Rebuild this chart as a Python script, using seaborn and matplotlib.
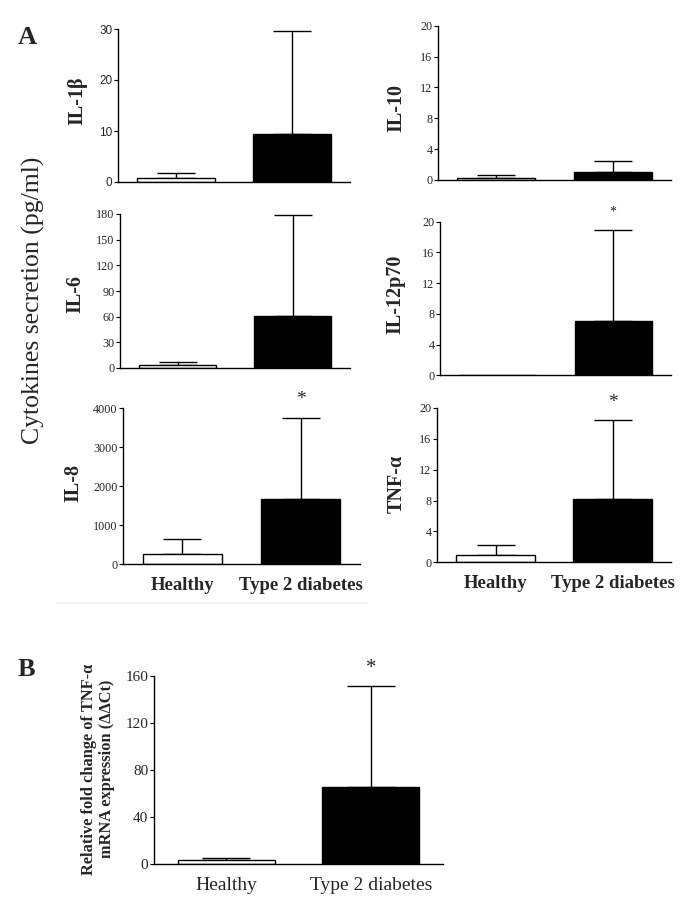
import matplotlib
matplotlib.use('Agg')
import matplotlib.pyplot as plt
import seaborn as sns
import numpy as np

sns.set_style('ticks')
plt.rcParams['font.family'] = ['Liberation Serif', 'DejaVu Serif']

# data
groups = ['Healthy', 'Type 2 diabetes']

il1b_mean = [0.8, 9.4]
il1b_sd = [1.0, 20.2]
il10_mean = [0.2, 1.0]
il10_sd = [0.4, 1.5]
il6_mean = [3.5, 61]
il6_sd = [3.1, 118]
il12_mean = [0.0, 7.1]
il12_sd = [0.0, 11.8]
il8_mean = [270, 1665]
il8_sd = [370, 2095]
tnf_mean = [0.9, 8.2]
tnf_sd = [1.4, 10.2]
mrna_mean = [3.4, 65.8]
mrna_sd = [2.2, 85.2]

W, H = 685, 921
fig = plt.figure(figsize=(W / 100, H / 100), dpi=100)


def px_axes(x0, x1, ytop, ybot):
    # axes placed by pixel coords (top-left origin)
    return fig.add_axes([x0 / W, 1 - ybot / H, (x1 - x0) / W, (ybot - ytop) / H])


def px_text(x, y, s, **kw):
    fig.text(x / W, 1 - y / H, s, **kw)


def bar_panel(ax, means, sds, yticks, star=None, tick_font='Liberation Serif',
              tick_size=8.7, capsize=14, star_size=14):
    sns.barplot(x=groups, y=means, hue=groups, palette=['white', 'black'],
                edgecolor='black', linewidth=1.0, width=0.67, legend=False,
                ax=ax, zorder=2)
    x = np.arange(len(groups))
    m = np.array(means, dtype=float)
    s = np.array(sds, dtype=float)
    keep = s > 0
    ax.errorbar(x[keep], m[keep], yerr=[np.zeros(keep.sum()), s[keep]],
                fmt='none', ecolor='black', elinewidth=1.0, capsize=capsize,
                capthick=1.0, zorder=1)
    ax.set_xlim(-0.5, 1.5)
    ax.set_ylim(0, yticks[-1])
    ax.set_yticks(yticks)
    ax.set_yticklabels([str(t) for t in yticks], fontfamily=tick_font,
                       fontsize=tick_size)
    ax.set_xlabel('')
    ax.set_ylabel('')
    ax.tick_params(axis='y', length=3, width=0.8, pad=1, color='black')
    ax.tick_params(axis='x', length=0)
    ax.set_xticklabels([])
    sns.despine(ax=ax)
    for sp in ['left', 'bottom']:
        ax.spines[sp].set_linewidth(1.0)
        ax.spines[sp].set_color('black')
    if star is not None:
        ax.annotate('*', xy=(star, m[star] + s[star]), xytext=(0, 13),
                    textcoords='offset points', ha='center', va='center',
                    fontsize=star_size)


# panel A
ax1 = px_axes(118, 350, 29, 182)
bar_panel(ax1, il1b_mean, il1b_sd, [0, 10, 20, 30], tick_font='Liberation Sans',
          tick_size=8.5)
ax2 = px_axes(438, 671, 25.7, 180)
bar_panel(ax2, il10_mean, il10_sd, [0, 4, 8, 12, 16, 20])
ax3 = px_axes(120, 350, 214, 368)
bar_panel(ax3, il6_mean, il6_sd, [0, 30, 60, 90, 120, 150, 180])
ax4 = px_axes(440, 671, 221.7, 375.3)
bar_panel(ax4, il12_mean, il12_sd, [0, 4, 8, 12, 16, 20], star=1, star_size=10)
ax5 = px_axes(123, 360, 408.3, 564.3)
bar_panel(ax5, il8_mean, il8_sd, [0, 1000, 2000, 3000, 4000], star=1)
ax6 = px_axes(437, 671, 408, 562.3)
bar_panel(ax6, tnf_mean, tnf_sd, [0, 4, 8, 12, 16, 20], star=1)

for ax in [ax5, ax6]:
    ax.set_xticks([0, 1])
    ax.set_xticklabels(groups, fontweight='bold', fontsize=13.5)
    ax.tick_params(axis='x', pad=9)

# panel labels for cytokines
lab = dict(rotation=90, ha='center', va='center', fontsize=14.5, fontweight='bold')
px_text(77, 101, 'IL-1β', **lab)
px_text(396, 108, 'IL-10', **lab)
px_text(75, 294, 'IL-6', **lab)
px_text(395, 294, 'IL-12p70', **lab)
px_text(73, 483, 'IL-8', **lab)
px_text(397, 484, 'TNF-α', **lab)

px_text(33, 300, 'Cytokines secretion (pg/ml)', rotation=90, ha='center',
        va='center', fontsize=18.5)
px_text(27, 37, 'A', ha='center', va='center', fontsize=19, fontweight='bold')

# faint separator under panel A
fig.add_artist(plt.Line2D([56 / W, 368 / W], [1 - 603 / H, 1 - 603 / H],
                          color='#f0f0f0', lw=1.2))

# panel B
ax7 = px_axes(154, 443, 675.7, 864.3)
bar_panel(ax7, mrna_mean, mrna_sd, [0, 40, 80, 120, 160], star=1,
          tick_size=11, capsize=17, star_size=15)
ax7.set_xticks([0, 1])
ax7.set_xticklabels(groups, fontsize=14)
ax7.tick_params(axis='x', pad=9)
px_text(98, 769, 'Relative fold change of TNF-α\nmRNA expression (ΔΔCt)',
        rotation=90, ha='center', va='center', fontsize=11.8,
        fontweight='bold', linespacing=1.15)
px_text(26, 669, 'B', ha='center', va='center', fontsize=19, fontweight='bold')

fig.savefig('out.png', dpi=100)
